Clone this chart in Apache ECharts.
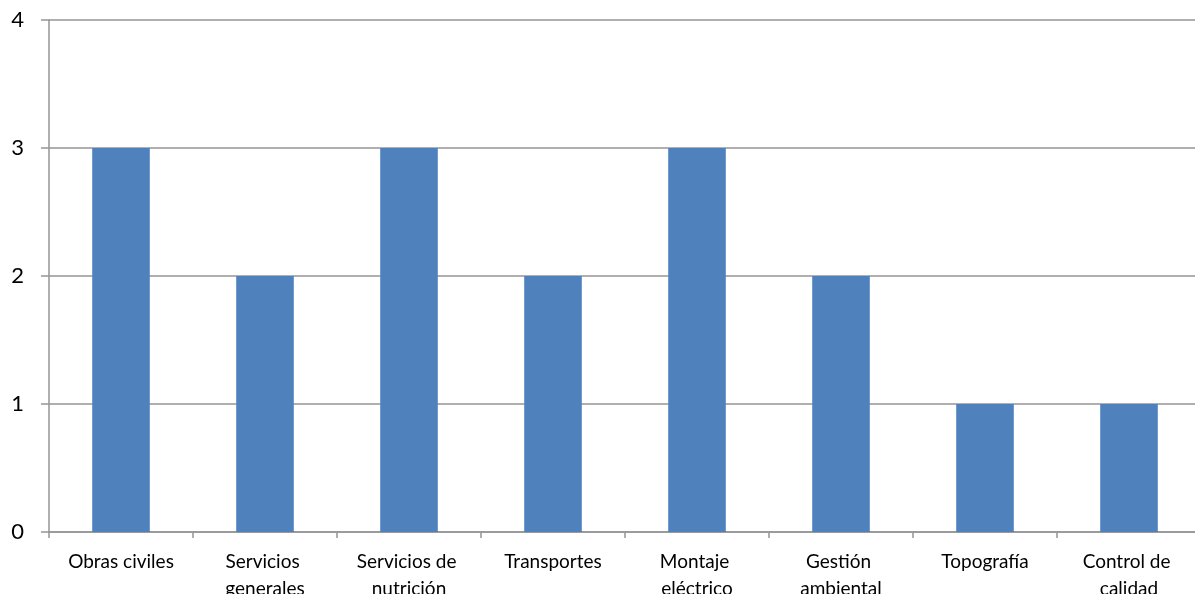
<!DOCTYPE html>
<html>
<head>
<meta charset="utf-8">
<script src="https://cdn.jsdelivr.net/npm/echarts@6/dist/echarts.min.js"></script>
<style>
  html, body { margin: 0; padding: 0; background: #fff; }
  #chart { width: 1195px; height: 594px; }
</style>
</head>
<body>
<div id="chart"></div>
<script>
// Areas of work and the count for each
const categories = [
  'Obras civiles',
  'Servicios generales',
  'Servicios de nutrición',
  'Transportes',
  'Montaje eléctrico',
  'Gestión ambiental',
  'Topografía',
  'Control de calidad'
];
const values = [3, 2, 3, 2, 3, 2, 1, 1];
const yTicks = [0, 1, 2, 3, 4];

const gray = '#959595';
const chart = echarts.init(document.getElementById('chart'));
chart.setOption({
  animation: false,
  grid: {
    left: 49, top: 20, width: 1152, height: 512,
    containLabel: false,
    outerBoundsMode: 'none'
  },
  xAxis: {
    type: 'category',
    data: categories,
    axisLine: { lineStyle: { color: gray, width: 1.5 } },
    axisTick: { show: true, length: 6, lineStyle: { color: gray, width: 1.5 } },
    axisLabel: {
      interval: 0,
      margin: 16,
      color: '#000',
      fontFamily: 'Lato',
      fontSize: 19,
      lineHeight: 27,
      width: 128,
      overflow: 'break'
    }
  },
  yAxis: {
    type: 'value',
    min: yTicks[0],
    max: yTicks[yTicks.length - 1],
    interval: 1,
    axisLine: { show: true, lineStyle: { color: gray, width: 1.5 } },
    axisTick: { show: true, length: 8, lineStyle: { color: gray, width: 1.5 } },
    splitLine: { lineStyle: { color: gray, width: 1.5 } },
    axisLabel: {
      margin: 25,
      color: '#000',
      fontFamily: 'Lato',
      fontSize: 22
    }
  },
  series: [{
    type: 'bar',
    data: values,
    barWidth: '40%',
    itemStyle: { color: '#4f81bd' }
  }]
});
</script>
</body>
</html>
